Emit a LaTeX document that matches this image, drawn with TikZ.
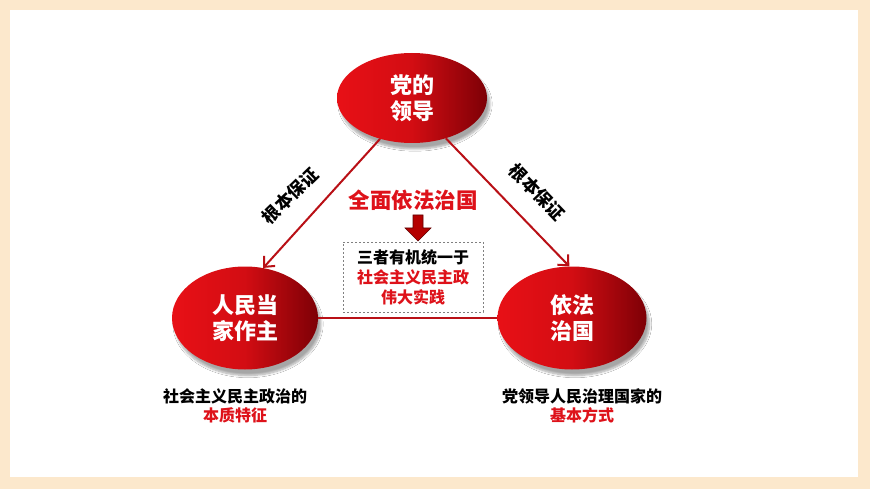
\documentclass[tikz,border=0pt]{standalone}
\usepackage{fontspec}
\setmainfont{Noto Sans CJK SC}
\usetikzlibrary{shapes.geometric, shadows.blur, arrows.meta}
\definecolor{beige}{RGB}{252,232,204}
\definecolor{rbright}{RGB}{232,16,22}
\definecolor{rdark}{RGB}{125,0,6}
\definecolor{lnred}{RGB}{185,16,22}
\definecolor{txtred}{RGB}{222,18,26}
\definecolor{arrred}{RGB}{180,0,0}
\definecolor{arrdark}{RGB}{95,0,0}
\begin{document}
\begin{tikzpicture}[x=1pt,y=-1pt,
  ball/.style={ellipse, inner sep=0, left color=rbright, right color=rdark,
    middle color=rbright!80!rdark, text=white, align=center,
    font=\bfseries\fontsize{22}{26}\selectfont,
    blur shadow={shadow xshift=3pt, shadow yshift=-6pt, shadow blur steps=8, shadow opacity=35}},
  conn/.style={draw=lnred, line width=2pt},
  tip/.style={-{Straight Barb[length=8pt,width=15pt,line width=2pt]}},
  sidelab/.style={font=\bfseries\fontsize{17.5}{19}\selectfont, text=black, inner sep=0},
  caption/.style={font=\bfseries\fontsize{16}{19}\selectfont, text=black, align=center}
]
\useasboundingbox (0,0) rectangle (870,489);
\fill[beige] (0,0) rectangle (870,489);
\fill[white] (10,10) rectangle (858,477);

\node[ball, minimum width=150pt, minimum height=90pt] (party) at (412,98) {党的\\领导};
\node[ball, minimum width=146pt, minimum height=103pt] (people) at (245,318) {人民当\\家作主};
\node[ball, minimum width=149pt, minimum height=103pt] (law) at (572,318) {依法\\治国};

\draw[conn, tip] (party.232) -- (people.70);
\draw[conn, tip] (party.310) -- (law.93);
\draw[conn] (people.east) -- (law.west);

\node[sidelab, rotate=44] (labL) at (290,196) {根本保证};
\node[sidelab, rotate=-46] (labR) at (537,192) {根本保证};

\node[font=\bfseries\fontsize{21.5}{24}\selectfont, text=txtred] (title) at (413,200) {全面依法治国};
\fill[arrred, draw=arrdark, line width=0.6pt] (413,215) -- (423,215) -- (423,228) -- (431,228) -- (418,241) -- (405,228) -- (413,228) -- cycle;

\node[draw=gray, dashed, dash pattern=on 2pt off 2pt, line width=0.7pt, minimum width=140pt, minimum height=70pt,
  inner sep=0, align=center, font=\bfseries\fontsize{16}{20}\selectfont] (box) at (413,277)
  {三者有机统一于\\\textcolor{txtred}{社会主义民主政}\\\textcolor{txtred}{伟大实践}};

\node[caption] (capL) at (235,406) {社会主义民主政治的\\\textcolor{txtred}{本质特征}};
\node[caption] (capR) at (582,406) {党领导人民治理国家的\\\textcolor{txtred}{基本方式}};
\end{tikzpicture}
\end{document}
